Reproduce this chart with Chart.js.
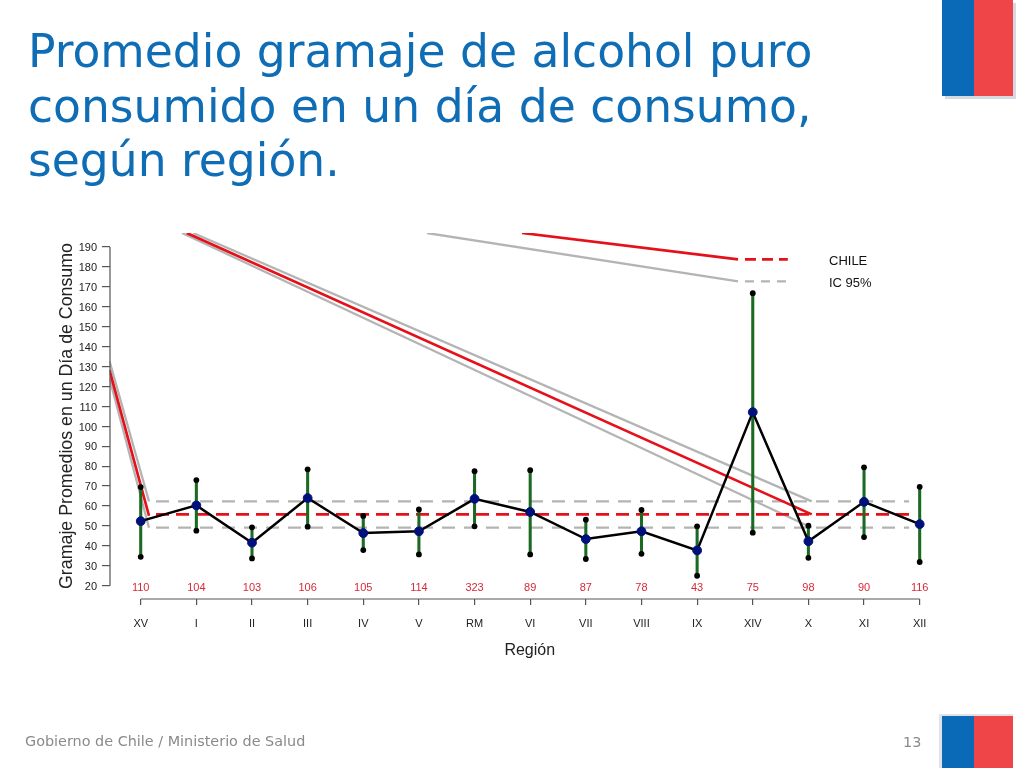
<!DOCTYPE html>
<html><head><meta charset="utf-8">
<script src="https://cdn.jsdelivr.net/npm/chart.js@4"></script>
<style>
html,body{margin:0;padding:0;background:#fff;width:1024px;height:768px;overflow:hidden}
#wrap{position:absolute;left:0;top:0;width:1024px;height:768px}
canvas{position:absolute;left:0;top:0}
.t{position:absolute;white-space:nowrap}
#title{left:28px;top:25px;font:45.6px/54.5px "DejaVu Sans",sans-serif;color:#0f6db5}
#foot{left:25px;top:733px;font:14.4px "DejaVu Sans",sans-serif;color:#8a8a8a}
#num{left:903px;top:734px;font:14.4px "DejaVu Sans",sans-serif;color:#8a8a8a}
.b{position:absolute}
</style></head><body>
<div id="wrap">
<canvas id="c" width="1024" height="768"></canvas>
<div class="t" id="title">Promedio gramaje de alcohol puro<br>consumido en un día de consumo,<br>según región.</div>
<div class="t" id="foot">Gobierno de Chile / Ministerio de Salud</div>
<div class="t" id="num">13</div>
<div class="b" style="left:945px;top:3px;width:71px;height:96px;background:#d5d9e2"></div>
<div class="b" style="left:942px;top:0;width:32px;height:96px;background:#0a6ab8"></div>
<div class="b" style="left:974px;top:0;width:39px;height:96px;background:#f04548"></div>
<div class="b" style="left:939px;top:714px;width:74px;height:54px;background:#e0e2e6"></div>
<div class="b" style="left:942px;top:716px;width:32px;height:52px;background:#0a6ab8"></div>
<div class="b" style="left:974px;top:716px;width:39px;height:52px;background:#f04548"></div>
</div>
<script>
const regions=["XV","I","II","III","IV","V","RM","VI","VII","VIII","IX","XIV","X","XI","XII"];
const sampleSizes=[110,104,103,106,105,114,323,89,87,78,43,75,98,90,116];
const means=[52.4,60.3,41.6,64,46.4,47.3,63.6,57,43.4,47.3,37.7,107.1,42.3,62.1,50.9];
const uppers=[69.5,73,49.3,78.4,55,58.3,77.5,78,53.1,58,49.8,166.8,50.1,79.4,69.6];
const lowers=[34.5,47.6,33.7,49.6,37.9,35.7,49.8,35.7,33.4,36,25,46.6,34,44.4,31.9];
const yTicks=[20,30,40,50,60,70,80,90,100,110,120,130,140,150,160,170,180,190];

const chileValue=55.8, icHigh=62.3, icLow=49.1;
const refStart=0.275, refEnd=13.81;
const chileLead=[{x:-0.561,y:128.2},{x:0.149,y:55.1},{x:null,y:null},{x:0.827,y:197},{x:12.06,y:chileValue},{x:null,y:null},{x:6.853,y:197},{x:10.735,y:183.8}];
const icHighLead=[{x:-0.561,y:132.7},{x:0.149,y:icHigh},{x:null,y:null},{x:0.94,y:197},{x:12.06,y:icHigh}];
const icLowLead=[{x:-0.561,y:124.1},{x:0.149,y:icLow},{x:null,y:null},{x:0.742,y:197},{x:12.06,y:icLow},{x:null,y:null},{x:5.145,y:197},{x:10.735,y:172.7}];
const legendKeyX=[10.86,11.63];
const legendChileY=183.8, legendIcY=172.7;
const legendLabels=["CHILE","IC 95%"];

const idx=regions.map((_,i)=>i);
const pts=a=>a.map((v,i)=>({x:i,y:v}));
const flat=(v,a,b)=>[{x:a,y:v},{x:b,y:v}];
const RED='#e5101a',GRAY='#b4b4b4',GREEN='#1b6a22';
const lineBase={type:'line',pointRadius:0,fill:false,tension:0,spanGaps:false};

const deco={id:'deco',
 afterDatasetsDraw(ch){
  const {ctx,scales:{x,y}}=ch;
  ctx.save();
  ctx.strokeStyle='#555';ctx.lineWidth=1.2;
  ctx.beginPath();
  ctx.moveTo(x.left+0.5,y.getPixelForValue(20));ctx.lineTo(x.left+0.5,y.getPixelForValue(190));
  ctx.moveTo(x.getPixelForValue(0),y.bottom);ctx.lineTo(x.getPixelForValue(14),y.bottom);
  ctx.stroke();
  ctx.fillStyle='#d62a38';ctx.font='11px "Liberation Sans"';ctx.textAlign='center';ctx.textBaseline='middle';
  sampleSizes.forEach((n,i)=>ctx.fillText(String(n),x.getPixelForValue(i),y.getPixelForValue(19)));
  ctx.fillStyle='#111';ctx.font='13px "Liberation Sans"';ctx.textAlign='left';
  ctx.fillText(legendLabels[0],829,y.getPixelForValue(legendChileY)+2);
  ctx.fillText(legendLabels[1],829,y.getPixelForValue(legendIcY)+2);
  ctx.restore();
 }};

new Chart(document.getElementById('c'),{
 type:'line',
 plugins:[deco],
 data:{datasets:[
  {...lineBase,data:icHighLead,borderColor:GRAY,borderWidth:2.3,order:20},
  {...lineBase,data:icLowLead,borderColor:GRAY,borderWidth:2.3,order:20},
  {...lineBase,data:flat(icHigh,refStart,refEnd),borderColor:GRAY,borderWidth:2.3,borderDash:[13,9],order:19},
  {...lineBase,data:flat(icLow,refStart,refEnd),borderColor:GRAY,borderWidth:2.3,borderDash:[13,9],order:19},
  {...lineBase,data:flat(legendIcY,legendKeyX[0],legendKeyX[1]),borderColor:GRAY,borderWidth:2.3,borderDash:[9,7],order:19},
  {...lineBase,data:chileLead,borderColor:RED,borderWidth:2.7,order:18},
  {...lineBase,data:flat(chileValue,refStart,refEnd),borderColor:RED,borderWidth:2.7,borderDash:[13,7],order:17},
  {...lineBase,data:flat(legendChileY,legendKeyX[0],legendKeyX[1]),borderColor:RED,borderWidth:2.7,borderDash:[11,6],order:17},
  {type:'bar',data:idx.map(i=>({x:i,y:[lowers[i],uppers[i]]})),backgroundColor:GREEN,barThickness:2.4,order:10},
  {...lineBase,data:pts(uppers),showLine:false,pointRadius:2.9,pointBackgroundColor:'#000',pointBorderWidth:0,order:9},
  {...lineBase,data:pts(lowers),showLine:false,pointRadius:2.9,pointBackgroundColor:'#000',pointBorderWidth:0,order:9},
  {...lineBase,data:pts(means),borderColor:'#000',borderWidth:2.5,pointRadius:4.4,pointBackgroundColor:'#00107a',pointBorderColor:'#00107a',pointBorderWidth:1,order:5}
 ]},
 options:{
  responsive:false,animation:false,devicePixelRatio:1,
  layout:{padding:{left:56,top:233,right:74,bottom:108}},
  plugins:{legend:{display:false},tooltip:{enabled:false},title:{display:false}},
  scales:{
   x:{type:'linear',min:-0.561,max:14.545,offset:false,
    afterBuildTicks(s){s.ticks=idx.map(v=>({value:v}));},
    afterFit(s){s.height=61;},
    border:{display:false},
    grid:{offset:false,drawOnChartArea:false,drawTicks:true,tickLength:6,color:'#555',lineWidth:1.2},
    ticks:{autoSkip:false,maxRotation:0,minRotation:0,padding:12,color:'#222',font:{family:'Liberation Sans',size:11},callback:v=>regions[v]},
    title:{display:true,text:'Región',color:'#222',font:{family:'Liberation Sans',size:16},padding:0}
   },
   y:{type:'linear',min:13.33,max:197,
    afterBuildTicks(s){s.ticks=yTicks.map(v=>({value:v}));},
    afterFit(s){s.width=53.5;},
    border:{display:false},
    grid:{drawOnChartArea:false,drawTicks:true,tickLength:7.5,color:'#555',lineWidth:1.2},
    ticks:{autoSkip:false,padding:5,labelOffset:1.2,color:'#222',font:{family:'Liberation Sans',size:11}},
    title:{display:true,text:'Gramaje Promedios en un Día de Consumo',color:'#222',font:{family:'Liberation Sans',size:17.8},padding:0}
   }
  }
 }
});
</script>
</body></html>
